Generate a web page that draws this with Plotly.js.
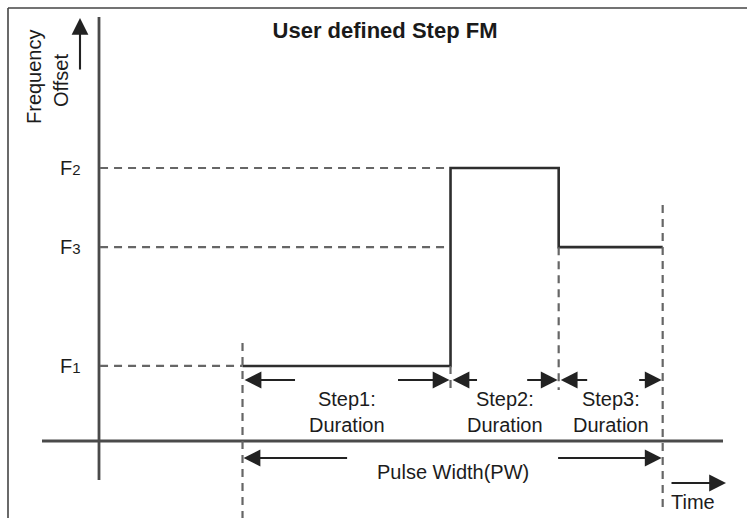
<!DOCTYPE html>
<html>
<head>
<meta charset="utf-8">
<script src="https://cdn.plot.ly/plotly-3.0.1.min.js"></script>
<style>html,body{margin:0;padding:0;background:#fff;}#chart{width:747px;height:518px;}</style>
</head>
<body>
<div id="chart"></div>
<script>
// ---- data ----
const levelLabels = ['F1', 'F2', 'F3'];
const levelOffsets = [2.75, 10, 7.1];          // frequency offset units
const stepNames = ['Step1:', 'Step2:', 'Step3:'];
const stepDurations = [10, 5.2, 5.0];          // time units
const pulseStart = 6.9;                         // time units
const stepLevels = ['F1', 'F2', 'F3'];
const chartTitle = 'User defined Step FM';

// ---- scales (pixel layout of the diagram) ----
const W = 747, H = 518;
const X0PX = 99, PXT = 20.8;    // time 0 at y-axis, px per time unit
const Y0PX = 441, PXF = 27.3;   // freq 0 at x-axis, px per freq unit
const tx = px => (px - X0PX) / PXT;
const fy = py => (Y0PX - py) / PXF;

const lvl = name => levelOffsets[levelLabels.indexOf(name)];
const bounds = [pulseStart];
stepDurations.forEach(d => bounds.push(bounds[bounds.length - 1] + d));
const pulseEnd = bounds[bounds.length - 1];

// step signal
const sx = [], sy = [];
stepLevels.forEach((name, i) => {
  sx.push(bounds[i], bounds[i + 1]);
  sy.push(lvl(name), lvl(name));
});

const axisCol = '#4a4a4a', lineCol = '#2e2e2e', dashCol = '#666', txtCol = '#1c1c1c';
const FONT = 'Liberation Sans, Arial, sans-serif';

const traces = [{
  x: sx, y: sy, type: 'scatter', mode: 'lines',
  line: {color: lineCol, width: 2.6}, hoverinfo: 'skip', showlegend: false
}];

const shapes = [];
// frame (top & left)
shapes.push({type: 'line', xref: 'paper', yref: 'paper', x0: 8 / W, x1: 1, y0: 1 - 8 / H, y1: 1 - 8 / H, line: {color: '#444', width: 1.6}});
shapes.push({type: 'line', xref: 'paper', yref: 'paper', x0: 8 / W, x1: 8 / W, y0: 1 - 8 / H, y1: 0, line: {color: '#444', width: 1.6}});
// axes
shapes.push({type: 'line', x0: 0, x1: 0, y0: fy(17), y1: fy(480), line: {color: axisCol, width: 2.8}});
shapes.push({type: 'line', x0: tx(42), x1: tx(723), y0: 0, y1: 0, line: {color: axisCol, width: 2.8}});
// horizontal dashed guides
const dashEnds = {F1: pulseStart, F2: bounds[1] - 0.3, F3: bounds[1] - 0.3};
levelLabels.forEach((name, i) => {
  shapes.push({type: 'line', x0: 0.05, x1: dashEnds[name], y0: levelOffsets[i], y1: levelOffsets[i],
    line: {color: dashCol, width: 2.2, dash: '8px,6px'}});
});
// vertical dashed guides
const vd = {color: dashCol, width: 2.2, dash: '8px,6px'};
shapes.push({type: 'line', x0: pulseStart, x1: pulseStart, y0: fy(343), y1: fy(518), line: vd});
shapes.push({type: 'line', x0: bounds[1], x1: bounds[1], y0: lvl('F1'), y1: fy(390), line: vd});
shapes.push({type: 'line', x0: bounds[2], x1: bounds[2], y0: lvl('F3'), y1: fy(390), line: vd});
shapes.push({type: 'line', x0: pulseEnd, x1: pulseEnd, y0: fy(205), y1: fy(510), line: vd});

const annotations = [];
function arrow(xTip, yTip, xTail, yTail) {
  annotations.push({x: xTip, y: yTip, ax: xTail, ay: yTail, xref: 'x', yref: 'y', axref: 'x', ayref: 'y',
    text: '', showarrow: true, arrowhead: 2, arrowsize: 1.6, arrowwidth: 2.1, arrowcolor: '#222', standoff: 0, startstandoff: 0});
}
// duration arrows
const durY = fy(380);
const tailPx = [[54, 54], [28, 33], [30, 25]];
stepDurations.forEach((d, i) => {
  arrow(bounds[i] + 0.1, durY, bounds[i] + tailPx[i][0] / PXT, durY);
  arrow(bounds[i + 1] - 0.05, durY, bounds[i + 1] - tailPx[i][1] / PXT, durY);
  annotations.push({x: (bounds[i] + bounds[i + 1]) / 2, y: fy(412), xref: 'x', yref: 'y',
    text: stepNames[i] + '<br>Duration', showarrow: false, font: {family: FONT, size: 20, color: txtCol}, align: 'center'});
});
// pulse width arrows
const pwY = fy(458);
const pwMid = (pulseStart + pulseEnd) / 2;
arrow(pulseStart + 0.05, pwY, pwMid - 5.0, pwY);
arrow(pulseEnd - 0.05, pwY, pwMid + 5.0, pwY);
annotations.push({x: pwMid, y: fy(472), xref: 'x', yref: 'y', text: 'Pulse Width(PW)', showarrow: false,
  font: {family: FONT, size: 20, color: txtCol}});
// time arrow
arrow(tx(726), fy(483), tx(670), fy(483));
annotations.push({x: tx(669), y: fy(502), xref: 'x', yref: 'y', text: 'Time', showarrow: false, xanchor: 'left',
  font: {family: FONT, size: 20, color: txtCol}});
// frequency axis arrow and label
arrow(tx(80), fy(18), tx(80), fy(71));
annotations.push({x: tx(34), y: fy(77), xref: 'x', yref: 'y', text: 'Frequency', textangle: -90, showarrow: false,
  font: {family: FONT, size: 20, color: txtCol}});
annotations.push({x: tx(61), y: fy(81), xref: 'x', yref: 'y', text: 'Offset', textangle: -90, showarrow: false,
  font: {family: FONT, size: 20, color: txtCol}});
// level labels
levelLabels.forEach((name, i) => {
  annotations.push({x: tx(83), y: levelOffsets[i], xref: 'x', yref: 'y', xanchor: 'right', yanchor: 'middle',
    text: name.charAt(0) + '<span style="font-size:15px">' + name.slice(1) + '</span>', showarrow: false,
    font: {family: FONT, size: 20, color: txtCol}});
});

const layout = {
  width: W, height: H,
  margin: {l: 0, r: 0, t: 0, b: 0},
  paper_bgcolor: '#fff', plot_bgcolor: '#fff',
  title: {text: '<b>' + chartTitle + '</b>', x: 385 / W, xanchor: 'center', y: 1 - 30 / H, yanchor: 'middle',
    font: {family: FONT, size: 22, color: '#1a1a1a'}},
  xaxis: {range: [tx(0), tx(W)], visible: false, fixedrange: true},
  yaxis: {range: [fy(H), fy(0)], visible: false, fixedrange: true},
  shapes: shapes, annotations: annotations, showlegend: false
};

Plotly.newPlot('chart', traces, layout, {staticPlot: true});
</script>
</body>
</html>
